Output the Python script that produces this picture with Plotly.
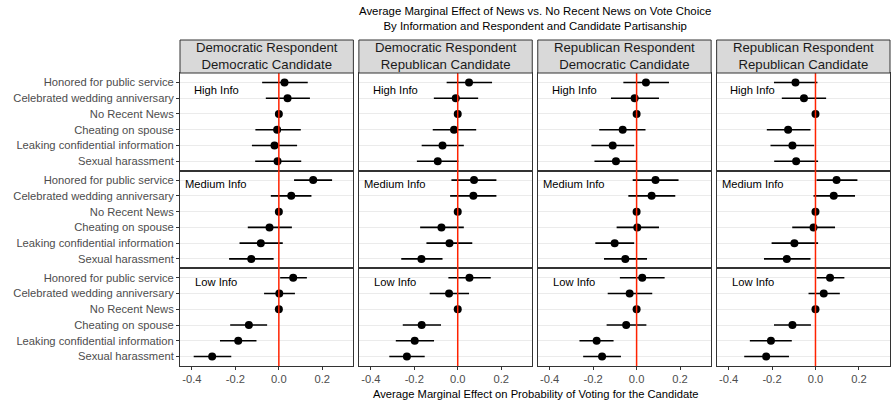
import plotly.graph_objects as go

# ---------------- data ----------------
categories = ["Honored for public service", "Celebrated wedding anniversary", "No Recent News",
              "Cheating on spouse", "Leaking confidential information", "Sexual harassment"]
info_levels = ["High Info", "Medium Info", "Low Info"]
panel_titles = ["Democratic Respondent<br>Democratic Candidate",
                "Democratic Respondent<br>Republican Candidate",
                "Republican Respondent<br>Democratic Candidate",
                "Republican Respondent<br>Republican Candidate"]
title_lines = ["Average Marginal Effect of News vs. No Recent News on Vote Choice",
               "By Information and Respondent and Candidate Partisanship"]
x_title = "Average Marginal Effect on Probability of Voting for the Candidate"
x_ticks = [-0.4, -0.2, 0.0, 0.2]
x_tick_labels = ["-0.4", "-0.2", "0.0", "0.2"]

# each list: High Info (6), Medium Info (6), Low Info (6)
est_dem_dem = [0.026, 0.040, 0, -0.008, -0.020, -0.006,
               0.158, 0.057, 0, -0.043, -0.083, -0.127,
               0.066, 0.002, 0, -0.138, -0.187, -0.307]
lo_dem_dem = [-0.077, -0.060, 0, -0.108, -0.124, -0.109,
              0.070, -0.037, 0, -0.143, -0.181, -0.229,
              0.006, -0.068, 0, -0.224, -0.271, -0.392]
hi_dem_dem = [0.133, 0.143, 0, 0.101, 0.084, 0.103,
              0.245, 0.150, 0, 0.060, 0.018, -0.024,
              0.129, 0.074, 0, -0.054, -0.103, -0.219]

est_dem_rep = [0.052, -0.009, 0, -0.017, -0.070, -0.092,
               0.075, 0.072, 0, -0.075, -0.038, -0.167,
               0.054, -0.040, 0, -0.166, -0.198, -0.234]
lo_dem_rep = [-0.051, -0.110, 0, -0.115, -0.166, -0.188,
              -0.029, -0.035, 0, -0.173, -0.144, -0.260,
              -0.043, -0.129, 0, -0.253, -0.285, -0.315]
hi_dem_rep = [0.158, 0.094, 0, 0.085, 0.028, 0.003,
              0.178, 0.178, 0, 0.028, 0.067, -0.070,
              0.152, 0.052, 0, -0.077, -0.109, -0.152]

est_rep_dem = [0.043, -0.009, 0, -0.064, -0.110, -0.095,
               0.087, 0.069, 0, 0.003, -0.101, -0.052,
               0.026, -0.032, 0, -0.048, -0.184, -0.159]
lo_rep_dem = [-0.061, -0.118, 0, -0.172, -0.208, -0.194,
              -0.018, -0.038, 0, -0.092, -0.190, -0.150,
              -0.077, -0.133, 0, -0.138, -0.263, -0.246]
hi_rep_dem = [0.149, 0.103, 0, 0.041, -0.011, 0.000,
              0.193, 0.178, 0, 0.103, -0.011, 0.048,
              0.129, 0.072, 0, 0.045, -0.106, -0.072]

est_rep_rep = [-0.092, -0.053, 0, -0.126, -0.106, -0.089,
               0.097, 0.084, 0, -0.009, -0.097, -0.132,
               0.067, 0.038, 0, -0.106, -0.205, -0.227]
lo_rep_rep = [-0.191, -0.155, 0, -0.224, -0.207, -0.190,
              0.005, -0.009, 0, -0.107, -0.202, -0.237,
              0.006, -0.032, 0, -0.191, -0.302, -0.328]
hi_rep_rep = [0.009, 0.049, 0, -0.023, -0.006, 0.012,
              0.193, 0.182, 0, 0.090, 0.012, -0.023,
              0.133, 0.112, 0, -0.021, -0.109, -0.122]

panels = [(est_dem_dem, lo_dem_dem, hi_dem_dem),
          (est_dem_rep, lo_dem_rep, hi_dem_rep),
          (est_rep_dem, lo_rep_dem, hi_rep_dem),
          (est_rep_rep, lo_rep_rep, hi_rep_rep)]

# ---------------- layout geometry ----------------
W, H = 891, 403
ML, MR, MT, MB = 180, 1, 73, 37
PW, PH = W - ML - MR, H - MT - MB
gap = 5.5
cw = (PW - 3 * gap) / 4
xr = [-0.455, 0.343]


def py(pix):
    """pixel row (from top of page) -> paper y"""
    return (H - MB - pix) / PH


fig = go.Figure()
layout = dict(
    width=W, height=H,
    margin=dict(l=ML, r=MR, t=MT, b=MB, autoexpand=False),
    paper_bgcolor="white", plot_bgcolor="white",
    showlegend=False,
    font=dict(family="Liberation Sans, Arial, sans-serif", size=11, color="#1a1a1a"),
)
shapes, annotations = [], []

for r in range(3):
    for c in range(4):
        i = r * 4 + c + 1
        xa = "xaxis" if i == 1 else f"xaxis{i}"
        ya = "yaxis" if i == 1 else f"yaxis{i}"
        xref = "x" if i == 1 else f"x{i}"
        yref = "y" if i == 1 else f"y{i}"
        x0 = c * (cw + gap) / PW
        x1 = (c * (cw + gap) + cw) / PW
        y0 = 1 - (r + 1) / 3
        y1 = 1 - r / 3
        layout[xa] = dict(
            domain=[x0, x1], anchor=yref, range=xr, showgrid=False, zeroline=False,
            automargin=False,
            tickvals=x_ticks, ticktext=x_tick_labels, showticklabels=(r == 2),
            ticks="outside" if r == 2 else "", ticklen=3, tickcolor="#333333",
            tickfont=dict(size=11.2, color="#4d4d4d"),
            showline=True, mirror=True, linecolor="#333333", linewidth=1,
        )
        layout[ya] = dict(
            domain=[y0, y1], anchor=xref, type="category", automargin=False,
            categoryorder="array", categoryarray=categories,
            range=[5.6, -0.6], showgrid=True, gridcolor="#ebebeb", gridwidth=1,
            zeroline=False, showticklabels=(c == 0),
            ticks="outside" if c == 0 else "", ticklen=3, tickcolor="#333333",
            tickfont=dict(size=11.2, color="#4d4d4d"),
            showline=True, mirror=True, linecolor="#333333", linewidth=1,
        )
        est, lo, hi = panels[c]
        e = est[r * 6:(r + 1) * 6]
        l = lo[r * 6:(r + 1) * 6]
        h = hi[r * 6:(r + 1) * 6]
        fig.add_trace(go.Scatter(
            x=e, y=categories, xaxis=xref, yaxis=yref, mode="markers",
            marker=dict(color="black", size=8),
            error_x=dict(type="data", symmetric=False,
                         array=[hh - ee for hh, ee in zip(h, e)],
                         arrayminus=[ee - ll for ee, ll in zip(e, l)],
                         color="black", thickness=1.6, width=0),
            cliponaxis=False, hoverinfo="skip",
        ))
        # red zero line
        shapes.append(dict(type="line", xref=xref, yref=f"{yref} domain",
                           x0=0, x1=0, y0=0, y1=1, line=dict(color="#ff2200", width=1.5),
                           layer="above"))
        # info label
        annotations.append(dict(text=info_levels[r], xref=xref, yref=yref,
                                x=-0.288, y=0.5 if r == 0 else 0.25,
                                showarrow=False, font=dict(size=11.2, color="black"),
                                xanchor="center", yanchor="middle"))

# strips
for c in range(4):
    x0 = c * (cw + gap) / PW
    x1 = (c * (cw + gap) + cw) / PW
    shapes.append(dict(type="rect", xref="paper", yref="paper",
                       x0=x0, x1=x1, y0=1, y1=1 + 33 / PH,
                       fillcolor="#d9d9d9", line=dict(color="#333333", width=1)))
    annotations.append(dict(text=panel_titles[c], xref="paper", yref="paper",
                            x=(x0 + x1) / 2, y=1 + 16.5 / PH, showarrow=False,
                            font=dict(size=13.2, color="#1a1a1a"),
                            xanchor="center", yanchor="middle"))

annotations.append(dict(
    text="<br>".join(title_lines), xref="paper", yref="paper", x=0.5, y=py(18),
    showarrow=False, font=dict(size=11.4, color="black"),
    xanchor="center", yanchor="middle"))
annotations.append(dict(
    text=x_title, xref="paper", yref="paper", x=0.5, y=py(394),
    showarrow=False, font=dict(size=11.2, color="black"),
    xanchor="center", yanchor="middle"))

layout["shapes"] = shapes
layout["annotations"] = annotations
fig.update_layout(**layout)
fig.write_html("out.html", config={"displayModeBar": False},
               post_script="document.body.style.margin='0';document.body.style.overflow='hidden';")
